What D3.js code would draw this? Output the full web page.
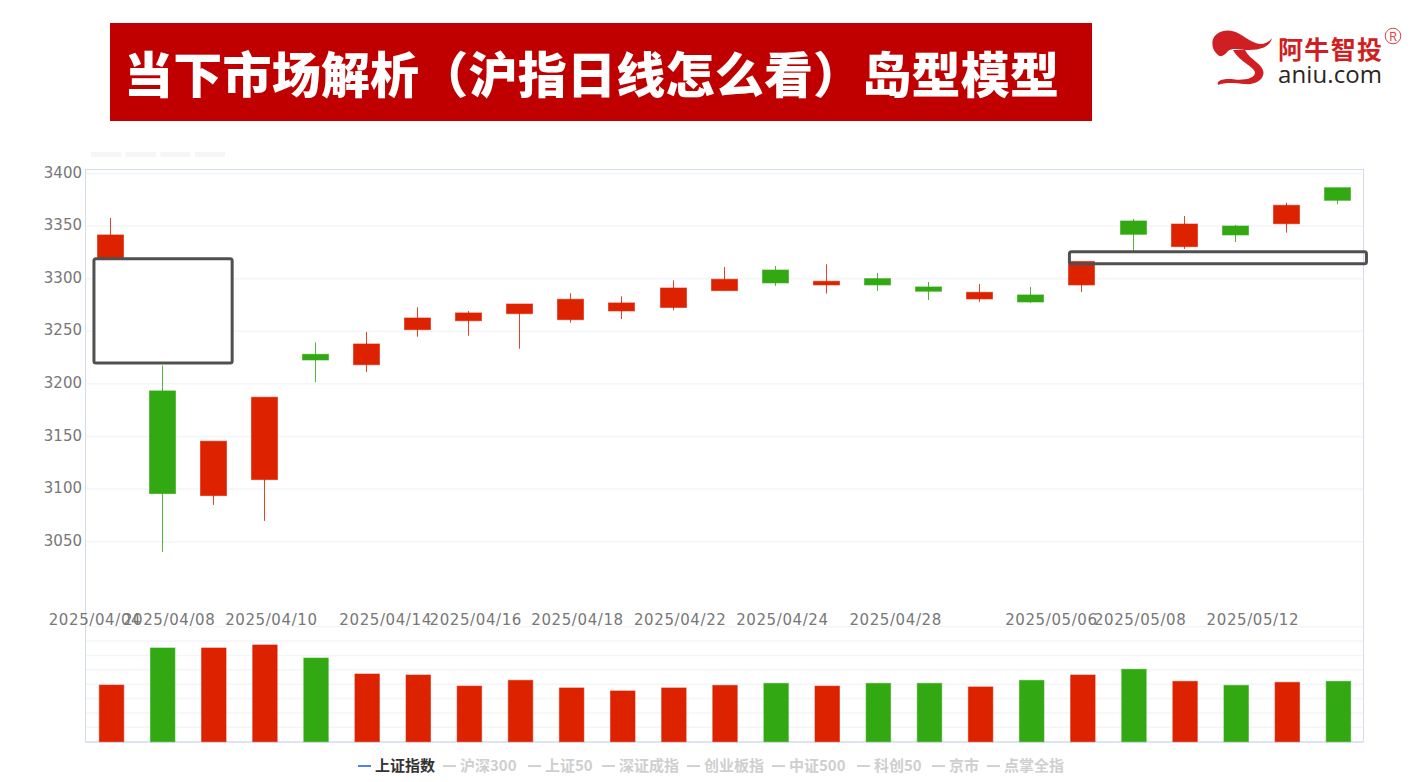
<!DOCTYPE html>
<html><head><meta charset="utf-8">
<script src="https://cdn.jsdelivr.net/npm/d3@7/dist/d3.min.js"></script>
<style>html,body{margin:0;padding:0;background:#fff}svg{display:block}</style>
</head><body><svg id="c" width="1412" height="782"></svg>
<script>
const titleText = "当下市场解析（沪指日线怎么看）岛型模型";
const dates = ["2025/04/03","2025/04/07","2025/04/08","2025/04/09","2025/04/10","2025/04/11","2025/04/14","2025/04/15","2025/04/16","2025/04/17","2025/04/18","2025/04/21","2025/04/22","2025/04/23","2025/04/24","2025/04/25","2025/04/28","2025/04/29","2025/04/30","2025/05/06","2025/05/07","2025/05/08","2025/05/09","2025/05/12","2025/05/13"];
const opens  = [3315.8,3193.3,3093.8,3109,3228.1,3218.2,3251.5,3260,3266.7,3261,3269.3,3272.6,3288.6,3308.2,3294,3300,3292.1,3280.7,3284.5,3294,3354.8,3330.4,3350,3352.2,3386.4];
const closes = [3341.5,3095.7,3145.5,3187.3,3222.7,3237.9,3262.6,3267.4,3275.9,3280.4,3276.9,3291.1,3299.4,3295.9,3297.5,3294,3288,3287,3277.8,3316.3,3342.1,3351.9,3341.5,3369.7,3374.4];
const highs  = [3357.6,3217.5,3145.5,3187.3,3239.5,3249.3,3272.8,3269.3,3275.9,3286.1,3283.2,3298.4,3311.1,3312,3313.6,3305.4,3296.8,3294.9,3292.1,3316.3,3356.7,3359.5,3351,3372.2,3386.4];
const lows   = [3315.8,3040.3,3085,3069.8,3201.5,3211.3,3244.8,3245.8,3233.4,3258.1,3261.7,3269.9,3288.6,3293,3285.7,3288.3,3279.7,3277.8,3276.9,3287.3,3325.3,3328.2,3334.8,3343.7,3370.9];
const volumes = [394,652,652,673,582,471,464,387,427,374,353,374,392,406,387,406,406,381,427,464,504,420,392,413,420];
const priceTicks = [3400,3350,3300,3250,3200,3150,3100,3050];
const volTicks = [100,200,300,400,500,600,700,800];
const tickLabels = ["2025/04/04","2025/04/08","2025/04/10","2025/04/14","2025/04/16","2025/04/18","2025/04/22","2025/04/24","2025/04/28","2025/05/06","2025/05/08","2025/05/12"];
const tickDates  = ["2025/04/03","2025/04/08","2025/04/10","2025/04/14","2025/04/16","2025/04/18","2025/04/22","2025/04/24","2025/04/28","2025/05/06","2025/05/08","2025/05/12"];
const legendNames = ["上证指数","沪深300","上证50","深证成指","创业板指","中证500","科创50","京市","点掌全指"];
const islandPrices = [[3318.8,3219.8],[3325.6,3314.2]];
const islandDates = [["2025/04/03","2025/04/08"],["2025/05/06","2025/05/13"]];

// layout (not data)
const tickDx = [-16,-44,-44,-32,-44,-44.5,-44,-44,-33,-30.5,-44,-33.5];
const legendDash = [358,443,528,602,687,772,857,932,987];
const islandPad = [[-17,19],[-12.5,29]];
const UP="#dd2200", DOWN="#32a912";
const FONT="'Noto Sans CJK SC','Noto Sans',sans-serif";

const svg=d3.select("#c");
const L=85.5,R=1363.5,T=169.5,B=742;
const x=d3.scaleBand().domain(dates).range([85.4,1363]);
const xv=d3.scaleBand().domain(dates).range([86,1364]);
const y=d3.scaleLinear().domain([3050,3400]).range([541.7,173.4]);
const yv=d3.scaleLinear().domain([0,800]).range([741.7,626.7]);
const cx=d=>x(d)+x.bandwidth()/2;

// title
svg.append("rect").attr("x",110).attr("y",23).attr("width",982).attr("height",98).attr("fill","#c00000");
svg.append("text").attr("x",124).attr("y",93).text(titleText)
 .attr("fill","#fff").attr("font-family",FONT).attr("font-weight",900).attr("font-size",49)
 .attr("textLength",935).attr("lengthAdjust","spacing");

// logo
const logo=svg.append("g").attr("fill","#cf1f22");
logo.append("path").attr("d","M1212.5 41C1214 33 1224 29 1232 31C1242 33 1250 43 1260 44C1265 44 1269 42 1272 38C1270 47 1260 50 1249 50C1240 50 1233 47 1228 51C1224 56 1220 58 1217 54C1213 50 1212 46 1212.5 41Z");
logo.append("path").attr("d","M1233 50L1245 50C1250 60 1262 63 1263.5 72C1264 80 1255 85 1245 84C1235 83 1225 82 1218 85C1216 80 1225 78 1235 79.5C1245 80.5 1256 78 1255 72C1253 66 1240 62 1233 50Z");
logo.append("text").attr("x",1278).attr("y",59).text("阿牛智投").attr("font-family",FONT).attr("font-weight",700).attr("font-size",25).attr("textLength",104);
logo.append("circle").attr("cx",1393).attr("cy",36).attr("r",7.8).attr("fill","none").attr("stroke","#d8474a").attr("stroke-width",1);
logo.append("text").attr("x",1393).attr("y",41).attr("text-anchor","middle").text("R").attr("font-family","'Open Sans'").attr("font-size",13).attr("fill","#d8474a");
svg.append("text").attr("x",1278).attr("y",83).text("aniu.com").attr("fill","#2b2523").attr("font-family","'Open Sans'").attr("font-size",24).attr("textLength",104);

// placeholder tabs
svg.selectAll(".tab").data(d3.range(4)).join("rect").attr("class","tab")
 .attr("x",i=>91+i*34.7).attr("y",152).attr("width",30).attr("height",5).attr("fill","#f6f6f6");

// grids
const gridCol="#f4f5f9";
svg.selectAll(".gp").data(priceTicks).join("line").attr("class","gp")
 .attr("x1",L).attr("x2",R).attr("y1",d=>y(d)).attr("y2",d=>y(d)).attr("stroke",gridCol).attr("stroke-width",1.5);
svg.selectAll(".gv").data(volTicks).join("line").attr("class","gv")
 .attr("x1",L).attr("x2",R).attr("y1",d=>yv(d)).attr("y2",d=>yv(d)).attr("stroke",gridCol).attr("stroke-width",1.5);

// frame
svg.append("rect").attr("x",L).attr("y",T).attr("width",R-L).attr("height",B-T).attr("fill","none").attr("stroke","#d4dbee").attr("stroke-width",1);
svg.append("line").attr("x1",L).attr("x2",R).attr("y1",B).attr("y2",B).attr("stroke","#dfe4f3").attr("stroke-width",2);

// axes
const ay=svg.append("g").attr("transform","translate(82,0)").call(d3.axisLeft(y).tickValues(priceTicks).tickSize(0).tickPadding(0).tickFormat(d3.format("d")));
ay.select(".domain").remove();
ay.selectAll("text").attr("fill","#777").attr("font-family","'DejaVu Sans'").attr("font-size",15).attr("dy","0.25em");
const ax=svg.append("g").attr("transform","translate(0,611)").call(d3.axisBottom(x).tickValues(tickDates).tickSize(0).tickPadding(0).tickFormat((d,i)=>tickLabels[i]));
ax.select(".domain").remove();
ax.selectAll("text").attr("fill","#777").attr("font-family","'DejaVu Sans'").attr("font-size",15).attr("letter-spacing",0.6)
 .attr("dx",(d,i)=>tickDx[i]).attr("dy",14);

// candles
const isUp=i=>closes[i]>=opens[i];
const g=svg.append("g");
const bw=26;
dates.forEach((d,i)=>{
  const c=isUp(i)?UP:DOWN, px=Math.floor(cx(d))+0.5;
  g.append("line").attr("x1",px).attr("x2",px).attr("y1",y(highs[i])).attr("y2",y(lows[i])).attr("stroke",c).attr("stroke-opacity",0.85);
  const t=y(Math.max(opens[i],closes[i])),b=y(Math.min(opens[i],closes[i]));
  g.append("rect").attr("x",px-bw/2).attr("width",bw).attr("y",t).attr("height",b-t).attr("fill",c).attr("stroke",c).attr("stroke-opacity",0.6);
  const vw=24.5,vx=xv(d)+xv.bandwidth()/2;
  g.append("rect").attr("x",vx-vw/2).attr("width",vw).attr("y",yv(volumes[i])).attr("height",yv(0)-yv(volumes[i])).attr("fill",c).attr("stroke",c).attr("stroke-opacity",0.55);
});

// island boxes
islandPrices.forEach((p,i)=>{
  const x0=cx(islandDates[i][0])+islandPad[i][0], x1=cx(islandDates[i][1])+islandPad[i][1];
  svg.append("rect").attr("x",x0).attr("y",y(p[0])).attr("width",x1-x0).attr("height",y(p[1])-y(p[0]))
   .attr("rx",2).attr("fill",i===0?"#fff":"none").attr("stroke","#505050").attr("stroke-width",3);
});

// legend
legendNames.forEach((n,i)=>{
  const on=i===0, dx=legendDash[i];
  svg.append("rect").attr("x",dx).attr("y",765).attr("width",13).attr("height",2).attr("fill",on?"#4f80f5":"#d2d2d2");
  svg.append("text").attr("x",dx+17).attr("y",771).text(n).attr("font-family",FONT).attr("font-weight",700).attr("font-size",15)
   .attr("fill",on?"#333":"#cfcfcf");
});
</script></body></html>
